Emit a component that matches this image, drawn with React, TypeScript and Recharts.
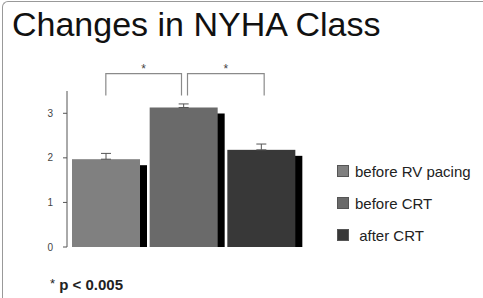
import {
  Bar,
  BarChart,
  Cell,
  ErrorBar,
  ReferenceLine,
  XAxis,
  YAxis,
} from "recharts";

const groups = ["before RV pacing", "before CRT", "after CRT"];
const means = [1.97, 3.13, 2.18];
const errors = [0.13, 0.08, 0.13];
const colors = ["#808080", "#6a6a6a", "#383838"];
const yTicks = [0, 1, 2, 3];

// significance brackets: from group -> to group, at value level
const brackets = [
  { from: "before RV pacing", to: "before CRT", level: 3.89 },
  { from: "before CRT", to: "after CRT", level: 3.89 },
];

const chartData = groups.map((g, i) => ({
  name: g,
  value: means[i],
  err: [0, errors[i]],
}));

const ShadowBar = (props: any) => {
  const { x, y, width, height, fill } = props;
  if (height <= 0) return null;
  return (
    <g>
      <rect x={x + 7} y={y + 6} width={width} height={height} fill="#000" />
      <rect x={x} y={y} width={width} height={height} fill={fill} />
    </g>
  );
};

const Bracket = (left: boolean) => (props: any) => {
  const { x1, y1, x2 } = props;
  const a = left ? x1 : x1 + 4;
  const b = left ? x2 - 2 : x2 + 3;
  return (
    <g>
      <path
        d={`M${a},${y1 + 22} L${a},${y1} L${b},${y1} L${b},${y1 + 22}`}
        stroke="#8a8a8a"
        strokeWidth={1.2}
        fill="none"
      />
      <text
        x={(a + b) / 2}
        y={y1 - 1}
        textAnchor="middle"
        fontSize={12}
        fill="#444"
        fontFamily="Liberation Sans, Arial, sans-serif"
      >
        *
      </text>
    </g>
  );
};

const LegendBox = () => (
  <div
    style={{
      position: "absolute",
      left: 337,
      top: 155,
      fontFamily: "Liberation Sans, Arial, sans-serif",
    }}
  >
    {groups.map((g, i) => (
      <div
        key={g}
        style={{
          display: "flex",
          alignItems: "center",
          height: 32,
          fontSize: 15,
          color: "#222",
          whiteSpace: "pre",
        }}
      >
        <span
          style={{
            width: 10,
            height: 10,
            background: colors[i],
            border: "1px solid #555",
            marginRight: 6,
            display: "inline-block",
          }}
        />
        {i === 2 ? " " + g : g}
      </div>
    ))}
  </div>
);

export default function App() {
  return (
    <div
      style={{
        position: "absolute",
        left: 0,
        top: 0,
        width: 483,
        height: 298,
        overflow: "hidden",
        background: "#fff",
        fontFamily: "Liberation Sans, Arial, sans-serif",
      }}
    >
      <div
        style={{
          position: "absolute",
          left: 2,
          top: 1,
          width: 490,
          height: 400,
          borderTop: "1.5px solid #999",
          borderLeft: "1.5px solid #999",
          borderTopLeftRadius: 6,
        }}
      />
      <div
        style={{
          position: "absolute",
          left: 12,
          top: 7,
          fontSize: 34,
          lineHeight: 1,
          color: "#111",
          whiteSpace: "nowrap",
        }}
      >
        Changes in NYHA Class
      </div>
      <BarChart
        width={483}
        height={298}
        data={chartData}
        margin={{ top: 91, right: 183, bottom: 51, left: 0 }}
        style={{ position: "absolute", left: 0, top: 0 }}
      >
        <XAxis dataKey="name" hide />
        <YAxis
          width={67}
          domain={[0, 3.5]}
          ticks={yTicks}
          tickSize={4}
          tickMargin={10}
          stroke="#555"
          tick={{ fontSize: 10, fill: "#444" }}
          allowDataOverflow
        />
        <Bar
          dataKey="value"
          barSize={68}
          shape={ShadowBar}
          isAnimationActive={false}
        >
          {chartData.map((d, i) => (
            <Cell key={d.name} fill={colors[i]} />
          ))}
          <ErrorBar
            dataKey="err"
            width={5}
            stroke="#555"
            strokeWidth={1}
            direction="y"
          />
        </Bar>
        {brackets.map((b, i) => (
          <ReferenceLine
            key={i}
            segment={[
              { x: b.from, y: b.level },
              { x: b.to, y: b.level },
            ]}
            ifOverflow="visible"
            shape={Bracket(i === 0)}
          />
        ))}
      </BarChart>
      <LegendBox />
      <div
        style={{
          position: "absolute",
          left: 50,
          top: 277,
          fontSize: 15,
          fontWeight: "bold",
          color: "#222",
          whiteSpace: "pre",
          lineHeight: 1,
        }}
      >
        <span style={{ fontWeight: "normal", fontSize: 13, verticalAlign: 2 }}>*</span>
        {" p < 0.005"}
      </div>
    </div>
  );
}
